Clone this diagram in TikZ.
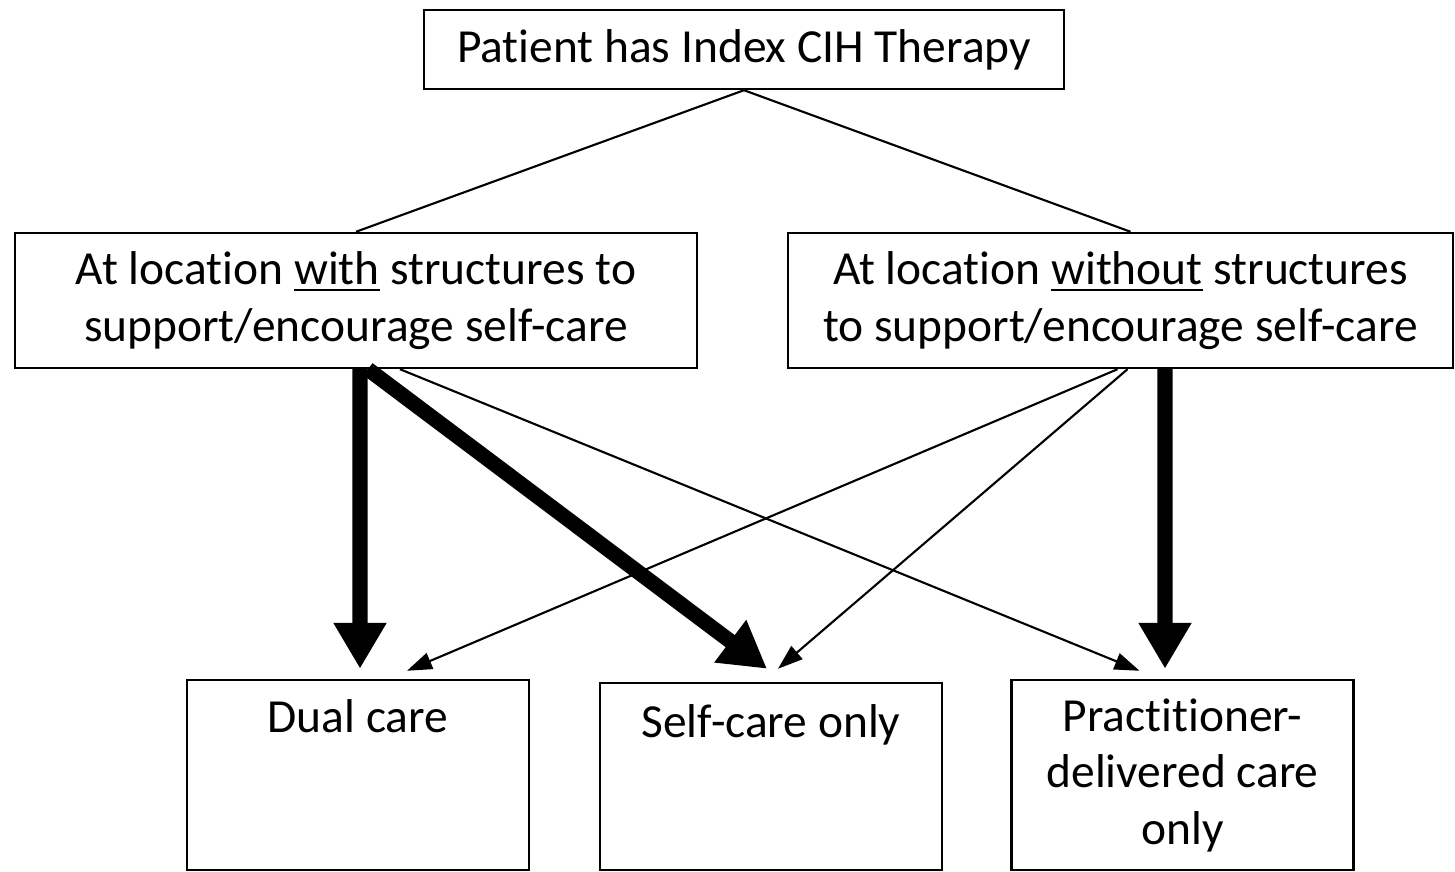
\documentclass[tikz,border=0pt]{standalone}
\usepackage{fontspec}
\setmainfont{Carlito}[Ligatures=NoCommon,Contextuals=AlternateOff]
\usetikzlibrary{arrows.meta}
\tikzset{%
	box/.style={draw,line width=0.7pt,inner sep=0pt,align=center,font=\fontsize{13.5}{16}\selectfont},
	outcome/.style={box,minimum width=3.42cm,minimum height=1.9cm},
	thickarrow/.style={line width=4.3pt,-{Triangle[length=4.6mm,width=5mm]}},
	thinarrow/.style={line width=0.6pt,-{Triangle[length=2.5mm,width=1.7mm]}},
}

\begin{document}
\begin{tikzpicture}
				\useasboundingbox (0,0) rectangle (14.55,8.72);
				
				%vhod
				\node[box,minimum width=6.4cm,minimum height=0.79cm] (index) at (7.44,8.225) {Patient has Index CIH Therapy};
				
				%lokacije
				\node[box,minimum width=6.82cm,minimum height=1.35cm] (with) at (3.56,5.715) {At location \underline{with} structures to\\support/encourage self-care};
				\node[box,minimum width=6.65cm,minimum height=1.35cm] (without) at (11.205,5.715) {At location \underline{without} structures\\to support/encourage self-care};
				
				%izidi
				\node[outcome] (dual) at (3.58,0.97) {\parbox[c][1.9cm][t]{3.3cm}{\centering\vspace*{2mm}Dual care}};
				\node[outcome,minimum height=1.87cm] (self) at (7.71,0.955) {\parbox[c][1.87cm][t]{3.3cm}{\centering\vspace*{2.2mm}Self-care only}};
				\node[outcome] (prac) at (11.825,0.97) {\parbox[c][1.9cm][t]{3.3cm}{\centering\vspace*{1.9mm}Practitioner-\\delivered care\\only}};
				
				%veje
				\draw[line width=0.6pt] (index.south) -- (with.north);
				\draw[line width=0.6pt] (index.south) -- ([xshift=1mm]without.north);
				
				%puscice
				\draw[thickarrow] ([xshift=0.4mm]with.south) -- ([shift={(0.02,0.1)}]dual.north);
				\draw[thickarrow] ([xshift=1.2mm]with.south) -- ([shift={(-0.04,0.13)}]self.north);
				\draw[thinarrow] ([xshift=4.4mm]with.south) -- ([shift={(-0.43,0.08)}]prac.north);
				\draw[thinarrow] ([xshift=-0.3mm]without.south) -- ([shift={(0.49,0.08)}]dual.north);
				\draw[thinarrow] ([xshift=0.7mm]without.south) -- ([shift={(0.07,0.13)}]self.north);
				\draw[thickarrow] ([xshift=4.45mm]without.south) -- ([shift={(-0.175,0.1)}]prac.north);
			\end{tikzpicture}
\end{document}
